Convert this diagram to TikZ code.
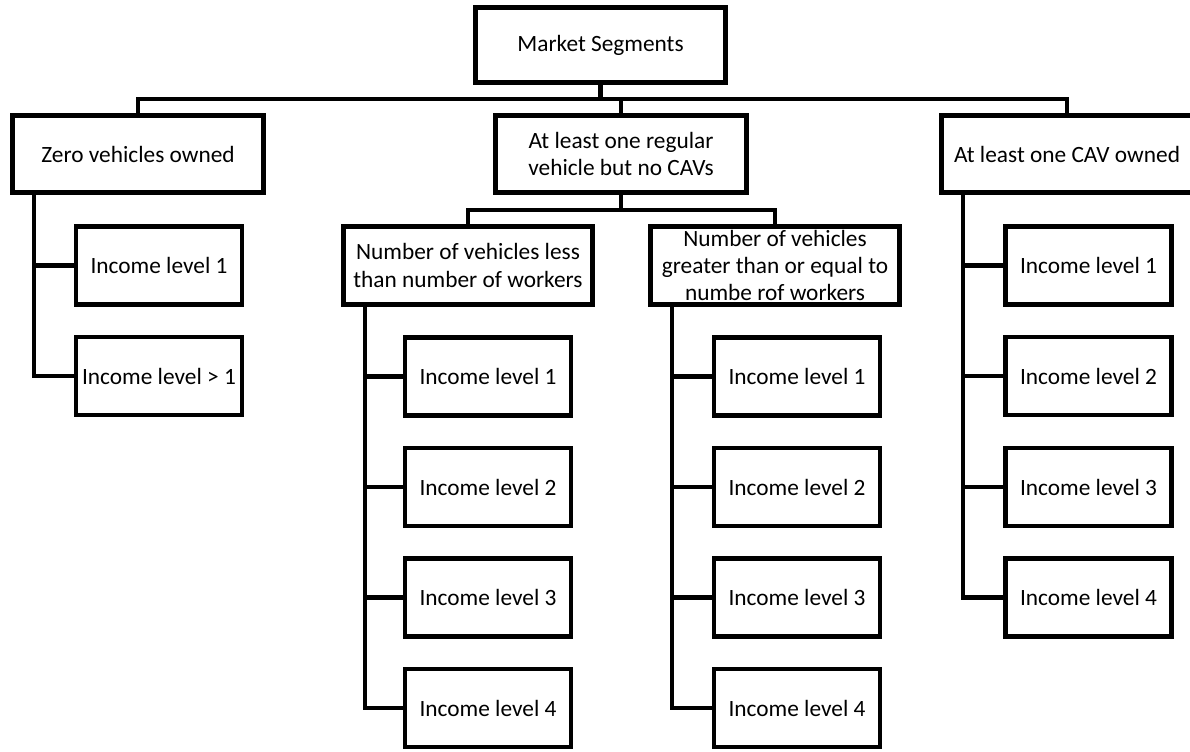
\documentclass[tikz,border=0pt]{standalone}
\usepackage{fontspec}
\setmainfont{Carlito}
\usepackage{tikz}

\begin{document}
\begin{tikzpicture}[x=0.75pt,y=-0.75pt,
  box/.style={draw,line width=3.6pt,rectangle,align=center,inner sep=2pt,
    font=\fontsize{17.5}{20.5}\selectfont},
  topbox/.style={box,minimum width=187.5pt,minimum height=56.25pt},
  catbox/.style={box,minimum width=188.25pt,minimum height=57.75pt},
  subbox/.style={box,minimum width=186.75pt,minimum height=58.5pt},
  incbox/.style={box,minimum width=124.5pt,minimum height=58.5pt},
  conn/.style={line width=3.2pt}]
  \useasboundingbox (0,0) rectangle (1190,752);
  \coordinate (bus) at (600,99); \coordinate (subbus) at (621,210);
  \node[topbox] (root) at (600.5,45)  {Market Segments};
  \node[catbox] (zero) at (138,154)   {Zero vehicles owned};
  \node[catbox] (reg)  at (621,154)   {At least one regular\\vehicle but no CAVs};
  \node[catbox] (cav)  at (1067,154)  {At least one CAV owned};
  \node[subbox] (less) at (468,265.5) {Number of vehicles less\\than number of workers};
  \node[subbox] (geq)  at (775,265.5) {Number of vehicles\\greater than or equal to\\numbe rof workers};
  \node[incbox] (z1) at (159,265.5) {Income level 1};
  \node[incbox] (z2) at (159,376)   {Income level > 1};
  \node[incbox] (l1) at (488,376.5) {Income level 1};
  \node[incbox] (l2) at (488,487)   {Income level 2};
  \node[incbox] (l3) at (488,597.5) {Income level 3};
  \node[incbox] (l4) at (488,708)   {Income level 4};
  \node[incbox] (g1) at (797,376.5) {Income level 1};
  \node[incbox] (g2) at (797,487)   {Income level 2};
  \node[incbox] (g3) at (797,597.5) {Income level 3};
  \node[incbox] (g4) at (797,708)   {Income level 4};
  \node[incbox] (c1) at (1088.5,265.5) {Income level 1};
  \node[incbox] (c2) at (1088.5,376)   {Income level 2};
  \node[incbox] (c3) at (1088.5,487)   {Income level 3};
  \node[incbox] (c4) at (1088.5,597.5) {Income level 4};
  \draw[conn] (root.south) |- (zero.north |- bus) -- (zero.north);
  \draw[conn] (root.south) |- (reg.north |- bus) -- (reg.north);
  \draw[conn] (root.south) |- (cav.north |- bus) -- (cav.north);
  \draw[conn] (reg.south) |- (less.north |- subbus) -- (less.north);
  \draw[conn] (reg.south) |- (geq.north |- subbus) -- (geq.north);
  \draw[conn] ([xshift=18pt]zero.south west) |- (z1.west);
  \draw[conn] ([xshift=18pt]zero.south west) |- (z2.west);
  \draw[conn] ([xshift=18pt]less.south west) |- (l1.west);
  \draw[conn] ([xshift=18pt]less.south west) |- (l2.west);
  \draw[conn] ([xshift=18pt]less.south west) |- (l3.west);
  \draw[conn] ([xshift=18pt]less.south west) |- (l4.west);
  \draw[conn] ([xshift=18pt]geq.south west) |- (g1.west);
  \draw[conn] ([xshift=18pt]geq.south west) |- (g2.west);
  \draw[conn] ([xshift=18pt]geq.south west) |- (g3.west);
  \draw[conn] ([xshift=18pt]geq.south west) |- (g4.west);
  \draw[conn] ([xshift=18pt]cav.south west) |- (c1.west);
  \draw[conn] ([xshift=18pt]cav.south west) |- (c2.west);
  \draw[conn] ([xshift=18pt]cav.south west) |- (c3.west);
  \draw[conn] ([xshift=18pt]cav.south west) |- (c4.west);
\end{tikzpicture}
\end{document}
